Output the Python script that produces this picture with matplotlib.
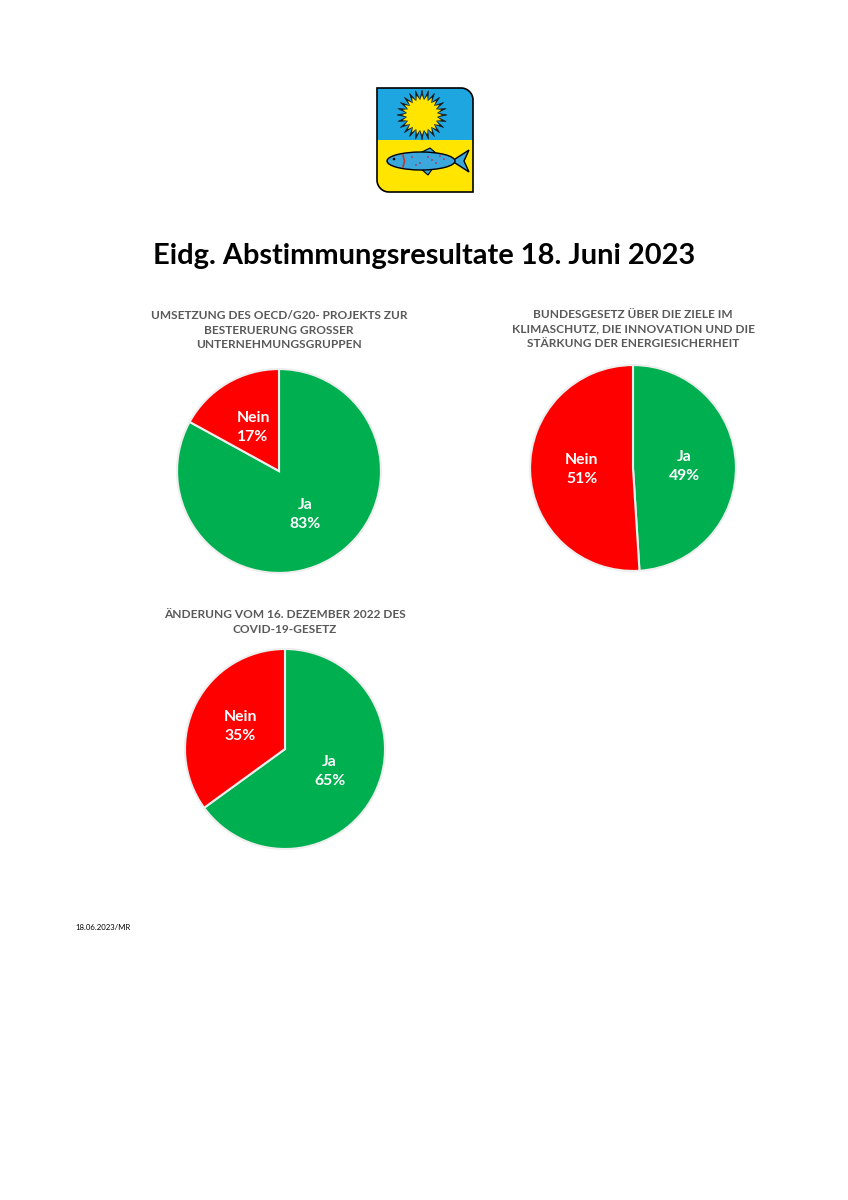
import numpy as np
import matplotlib
matplotlib.use("Agg")
import matplotlib.pyplot as plt
from matplotlib.patches import Polygon, Circle, Ellipse

plt.rcParams['font.family'] = ['Lato', 'DejaVu Sans']

# ---------------- data ----------------
categories = ["Ja", "Nein"]
votes_oecd = [83, 17]
votes_klima = [49, 51]
votes_covid = [65, 35]
title_oecd = "UMSETZUNG DES OECD/G20- PROJEKTS ZUR\nBESTERUERUNG GROSSER\nUNTERNEHMUNGSGRUPPEN"
title_klima = "BUNDESGESETZ ÜBER DIE ZIELE IM\nKLIMASCHUTZ, DIE INNOVATION UND DIE\nSTÄRKUNG DER ENERGIESICHERHEIT"
title_covid = "ÄNDERUNG VOM 16. DEZEMBER 2022 DES\nCOVID-19-GESETZ"
main_title = "Eidg. Abstimmungsresultate 18. Juni 2023"
footer = "18.06.2023/MR"

colors = ["#00B050", "#FF0000"]
W, H = 848, 1200

fig = plt.figure(figsize=(W / 100, H / 100), dpi=100)
fig.patch.set_facecolor("white")

# full-page axes in pixel coordinates
bg = fig.add_axes([0, 0, 1, 1])
bg.set_xlim(0, W)
bg.set_ylim(H, 0)
bg.axis("off")

# ---------------- coat of arms ----------------
x0, x1, y0, y1 = 377, 473, 88, 192
r = 12
def arc(cx, cy, rad, a0, a1, n=20):
    t = np.radians(np.linspace(a0, a1, n))
    return np.column_stack([cx + rad * np.cos(t), cy - rad * np.sin(t)])

shield = np.vstack([
    [[x0, y0]],
    arc(x1 - r, y0 + r, r, 90, 0),
    [[x1, y1]],
    arc(x0 + r, y1 - r, r, 270, 180),
])
ymid = 140
blue_pts = np.vstack([[[x0, y0]], arc(x1 - r, y0 + r, r, 90, 0), [[x1, ymid], [x0, ymid]]])
yel_pts = np.vstack([[[x0, ymid], [x1, ymid], [x1, y1]], arc(x0 + r, y1 - r, r, 270, 180)])
bg.add_patch(Polygon(blue_pts, closed=True, facecolor="#1EA6E0", edgecolor="none", zorder=2))
bg.add_patch(Polygon(yel_pts, closed=True, facecolor="#FFE500", edgecolor="none", zorder=2))
bg.add_patch(Polygon(shield, closed=True, facecolor="none", edgecolor="black", linewidth=1.2, zorder=5))

# sun
scx, scy = 422, 115
n = 24
ang = np.linspace(0, 2 * np.pi, 2 * n, endpoint=False)
rad = np.where(np.arange(2 * n) % 2 == 0, 25, 15)
star = np.column_stack([scx + rad * np.cos(ang), scy + rad * np.sin(ang)])
bg.add_patch(Polygon(star, closed=True, facecolor="#1a1a1a", edgecolor="#1a1a1a", linewidth=0.5, zorder=3))
rad2 = np.where(np.arange(2 * n) % 2 == 0, 20, 15)
star2 = np.column_stack([scx + rad2 * np.cos(ang), scy + rad2 * np.sin(ang)])
bg.add_patch(Polygon(star2, closed=True, facecolor="#FFE500", edgecolor="none", zorder=3.5))
bg.add_patch(Circle((scx, scy), 14, facecolor="#FFE500", edgecolor="none", zorder=4))

# fish
tail = [[452, 161], [469, 150], [464, 161], [469, 172]]
bg.add_patch(Polygon(tail, closed=True, facecolor="#3AA7DD", edgecolor="black", linewidth=1, zorder=3))
bg.add_patch(Polygon([[418, 154], [430, 148], [437, 154]], closed=True, facecolor="#3AA7DD", edgecolor="black", linewidth=0.8, zorder=3))
bg.add_patch(Polygon([[420, 168], [428, 175], [433, 168]], closed=True, facecolor="#3AA7DD", edgecolor="black", linewidth=0.8, zorder=3))
bg.add_patch(Ellipse((421, 161), 68, 18, facecolor="#3AA7DD", edgecolor="black", linewidth=1, zorder=4))
bg.plot([403, 404.5, 403], [155, 161, 167], color="#c0392b", lw=1.2, zorder=5)
bg.add_patch(Circle((394, 159), 1.3, facecolor="black", zorder=5))
for fx, fy in [(412, 157), (420, 163), (428, 157), (436, 163), (444, 159), (416, 165), (432, 160), (440, 156)]:
    bg.add_patch(Circle((fx, fy), 0.9, facecolor="#b03060", edgecolor="none", zorder=5))

# ---------------- texts ----------------
bg.text(424, 256, main_title, ha="center", va="center", fontsize=20.9, fontweight="bold", color="black")
tstyle = dict(ha="center", va="center", fontsize=8.6, fontweight="bold", color="#595959", linespacing=1.35)
bg.text(279, 330, title_oecd, **tstyle)
bg.text(633, 329, title_klima, **tstyle)
bg.text(285, 622, title_covid, **tstyle)
bg.text(75, 928, footer, ha="left", va="center", fontsize=5.6, color="black")

# ---------------- pies ----------------
def draw_pie(cx, cy, rpx, values):
    ax = fig.add_axes([(cx - rpx) / W, 1 - (cy + rpx) / H, 2 * rpx / W, 2 * rpx / H])
    labels = [f"{c}\n{v}%" for c, v in zip(categories, values)]
    wedges, texts = ax.pie(values, colors=colors, startangle=90, counterclock=False,
                           labels=labels, labeldistance=0.5, radius=1,
                           wedgeprops=dict(edgecolor="#EEEEEE", linewidth=1.5),
                           textprops=dict(color="white", fontsize=11.3, fontweight="bold"))
    for t in texts:
        t.set_ha("center")
        t.set_va("center")
        t.set_linespacing(1.45)
    ax.set_xlim(-1.02, 1.02)
    ax.set_ylim(-1.02, 1.02)
    ax.axis("off")

draw_pie(279, 471, 104, votes_oecd)
draw_pie(633, 468, 105, votes_klima)
draw_pie(285, 749, 102, votes_covid)

fig.savefig("out.png", dpi=100, facecolor="white")
